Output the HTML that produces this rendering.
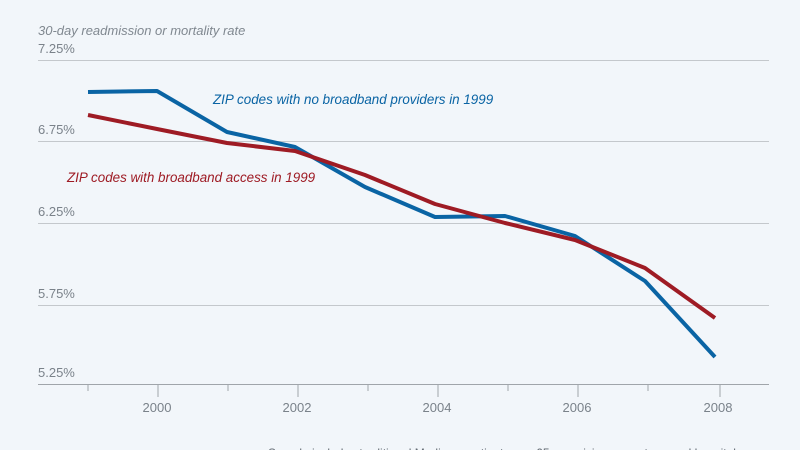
<!DOCTYPE html>
<html><head><meta charset="utf-8"><style>
html,body{margin:0;padding:0;background:#f2f6fa;}
svg{display:block;font-family:"Liberation Sans",sans-serif;}
</style></head><body>
<svg width="800" height="450" viewBox="0 0 800 450">
<rect width="800" height="450" fill="#f2f6fa"/>
<text x="38" y="35" font-size="13" font-style="italic" fill="#808890">30-day readmission or mortality rate</text>
<g font-size="13" fill="#7a828a">
<text x="38" y="53">7.25%</text>
<text x="38" y="134">6.75%</text>
<text x="38" y="216">6.25%</text>
<text x="38" y="298">5.75%</text>
<text x="38" y="377">5.25%</text>
</g>
<g stroke="#c4c8cc" stroke-width="1">
<line x1="38" x2="769" y1="60.5" y2="60.5"/>
<line x1="38" x2="769" y1="141.5" y2="141.5"/>
<line x1="38" x2="769" y1="223.5" y2="223.5"/>
<line x1="38" x2="769" y1="305.5" y2="305.5"/>
</g>
<g stroke="#a0a5aa" stroke-width="1">
<line x1="38" x2="769" y1="384.5" y2="384.5"/>
<line x1="88" x2="88" y1="384" y2="391"/>
<line x1="158" x2="158" y1="384" y2="397"/>
<line x1="228" x2="228" y1="384" y2="391"/>
<line x1="298" x2="298" y1="384" y2="397"/>
<line x1="368" x2="368" y1="384" y2="391"/>
<line x1="438" x2="438" y1="384" y2="397"/>
<line x1="508" x2="508" y1="384" y2="391"/>
<line x1="578" x2="578" y1="384" y2="397"/>
<line x1="648" x2="648" y1="384" y2="391"/>
<line x1="720" x2="720" y1="384" y2="397"/>
</g>
<g font-size="13" fill="#7a828a" text-anchor="middle">
<text x="157" y="412">2000</text>
<text x="297" y="412">2002</text>
<text x="437" y="412">2004</text>
<text x="577" y="412">2006</text>
<text x="718" y="412">2008</text>
</g>
<polyline fill="none" stroke="#0a64a4" stroke-width="4" stroke-linejoin="round" points="88,92 157,91 227,132 295,147 365,187 435,217 505,216 575,236 645,281 715,357"/>
<polyline fill="none" stroke="#9e1b24" stroke-width="4" stroke-linejoin="round" points="88,115 157,129 227,143 295,151 365,175 435,204 505,223 575,240 645,268 715,318"/>
<text x="213" y="104" font-size="13.4" font-style="italic" fill="#0a64a4">ZIP codes with no broadband providers in 1999</text>
<text x="67" y="182" font-size="13.4" font-style="italic" fill="#9e1b24">ZIP codes with broadband access in 1999</text>
<text x="268" y="457" font-size="12" fill="#606870">Sample includes traditional Medicare patients age 65+ receiving care at general hospitals</text>
</svg>
</body></html>
